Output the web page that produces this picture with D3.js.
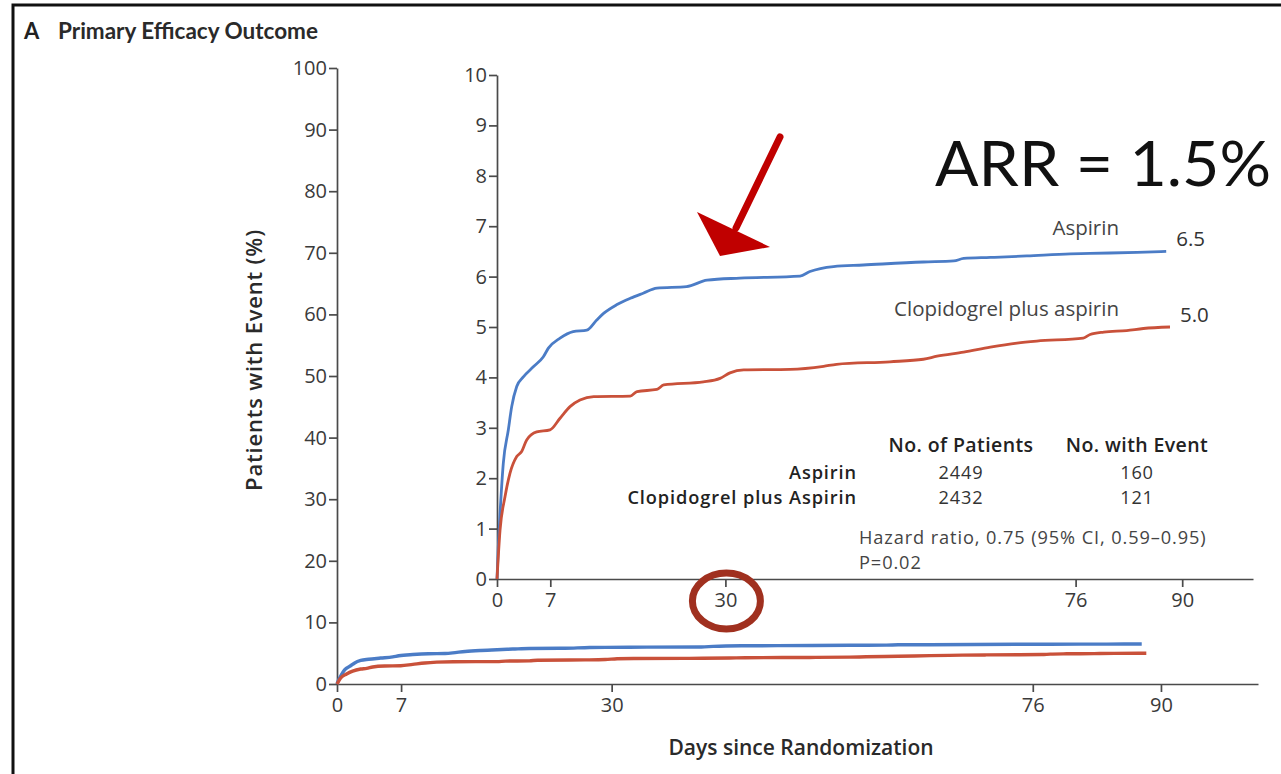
<!DOCTYPE html>
<html>
<head>
<meta charset="utf-8">
<script src="https://cdn.jsdelivr.net/npm/d3@7"></script>
<style>
  html, body { margin: 0; padding: 0; background: #fff; }
  svg { display: block; }
  text { font-family: "Open Sans", "Noto Sans", sans-serif; fill: #3a3a3a; }
</style>
</head>
<body>
<svg id="chart" width="1281" height="774"></svg>
<script>
// Kaplan–Meier cumulative event curves (percent of patients with event)
const seriesNames = ["Aspirin", "Clopidogrel plus aspirin"];
const seriesColors = ["#4b7cc6", "#c9513a"];

const aspirinDays = [0, 0.17, 0.4, 0.83, 1.49, 1.93, 2.59, 3.46, 4.77, 6.09, 6.75, 8.28, 10.0, 11.8, 13.1, 14.0, 15.7, 17.5, 19.2, 21.0, 24.9, 27.6, 31.9, 39.8, 41.1, 44.2, 48.1, 56.0, 60.0, 61.3, 64.8, 69.6, 75.3, 77.9, 84.1, 87.9];
const aspirinPct  = [0, 0.64, 1.30, 2.30, 2.96, 3.42, 3.82, 4.01, 4.21, 4.41, 4.58, 4.78, 4.91, 4.94, 5.14, 5.27, 5.44, 5.57, 5.67, 5.77, 5.80, 5.93, 5.97, 6.01, 6.10, 6.20, 6.23, 6.29, 6.31, 6.36, 6.38, 6.41, 6.45, 6.46, 6.48, 6.5];

const clopiDays = [0, 0.4, 1.05, 1.71, 2.59, 3.24, 3.90, 5.21, 6.96, 8.28, 9.59, 10.9, 12.7, 17.5, 18.4, 21.0, 21.9, 27.1, 29.3, 30.6, 32.4, 38.5, 42.9, 44.6, 51.6, 56.0, 57.8, 61.3, 64.8, 68.3, 70.9, 77.0, 77.9, 79.7, 82.7, 84.9, 88.4];
const clopiPct  = [0, 0.97, 1.63, 2.10, 2.43, 2.53, 2.76, 2.92, 2.96, 3.19, 3.42, 3.55, 3.62, 3.63, 3.72, 3.76, 3.85, 3.91, 3.98, 4.09, 4.15, 4.16, 4.22, 4.26, 4.31, 4.36, 4.42, 4.50, 4.60, 4.68, 4.72, 4.78, 4.85, 4.90, 4.93, 4.97, 5.0];

const xTicks = [0, 7, 30, 76, 90];
const mainYTicks = [0, 10, 20, 30, 40, 50, 60, 70, 80, 90, 100];
const insetYTicks = [0, 1, 2, 3, 4, 5, 6, 7, 8, 9, 10];

// Summary table
const tableHeaders = ["No. of Patients", "No. with Event"];
const tableGroups = ["Aspirin", "Clopidogrel plus Aspirin"];
const nPatients = [2449, 2432];
const nEvents = [160, 121];
const statLines = ["Hazard ratio, 0.75 (95% CI, 0.59\u20130.95)", "P=0.02"];

const series = [
  { name: seriesNames[0], color: seriesColors[0], pts: aspirinDays.map((d, i) => [d, aspirinPct[i]]) },
  { name: seriesNames[1], color: seriesColors[1], pts: clopiDays.map((d, i) => [d, clopiPct[i]]) }
];

const svg = d3.select("#chart");
const axisColor = "#4a4a4a";

// Page frame
svg.append("path")
  .attr("d", "M13,774 L13,5 L1281,5")
  .attr("fill", "none").attr("stroke", "#111").attr("stroke-width", 3);

// Panel heading
svg.append("text").attr("x", 24).attr("y", 39)
  .style("font-family", "Lato, 'Open Sans', sans-serif")
  .style("font-size", "22px").style("font-weight", 700).style("fill", "#222")
  .text("A");
svg.append("text").attr("x", 58).attr("y", 39)
  .style("font-family", "Lato, 'Open Sans', sans-serif")
  .style("font-size", "22.5px").style("font-weight", 700).style("fill", "#2a2a2a")
  .text("Primary Efficacy Outcome");

function styleAxis(g, fontSize) {
  g.select(".domain").attr("stroke", axisColor).attr("stroke-width", 1.7);
  g.selectAll(".tick line").attr("stroke", axisColor).attr("stroke-width", 1.7);
  g.selectAll(".tick text")
    .style("font-family", "'Open Sans', sans-serif")
    .style("font-size", fontSize + "px").style("fill", "#3a3a3a");
}

// ---------- Main panel (0–100 %) ----------
const xMain = d3.scaleLinear().domain([0, 100.6]).range([337, 1258]);
const yMain = d3.scaleLinear().domain([0, 100]).range([684, 68]);

svg.append("g").attr("transform", `translate(0,${yMain(0)})`)
  .call(d3.axisBottom(xMain).tickValues(xTicks).tickSize(8).tickSizeOuter(0).tickPadding(6))
  .call(g => styleAxis(g, 20));

svg.append("g").attr("transform", `translate(${xMain(0)},0)`)
  .call(d3.axisLeft(yMain).tickValues(mainYTicks).tickSize(8).tickSizeOuter(0).tickPadding(2))
  .call(g => styleAxis(g, 20));

svg.append("text")
  .attr("transform", `translate(262,360) rotate(-90)`)
  .attr("text-anchor", "middle")
  .style("font-size", "22px").style("font-weight", 600).style("fill", "#2a2a2a")
  .style("letter-spacing", "0.8px")
  .text("Patients with Event (%)");

svg.append("text")
  .attr("x", 801).attr("y", 755).attr("text-anchor", "middle")
  .style("font-size", "21px").style("font-weight", 600).style("fill", "#2a2a2a")
  .text("Days since Randomization");

const lineMain = d3.line().x(d => xMain(d[0])).y(d => yMain(d[1])).curve(d3.curveMonotoneX);
svg.append("g").selectAll("path").data(series).join("path")
  .attr("d", d => lineMain(d.pts))
  .attr("fill", "none").attr("stroke", d => d.color).attr("stroke-width", 3.4);

// ---------- Inset panel (0–10 %) ----------
const xIn = d3.scaleLinear().domain([0, 99.3]).range([497, 1253]);
const yIn = d3.scaleLinear().domain([0, 10]).range([579, 75]);

svg.append("g").attr("transform", `translate(0,${yIn(0)})`)
  .call(d3.axisBottom(xIn).tickValues(xTicks).tickSize(8).tickSizeOuter(0).tickPadding(6))
  .call(g => styleAxis(g, 20));

svg.append("g").attr("transform", `translate(${xIn(0)},0)`)
  .call(d3.axisLeft(yIn).tickValues(insetYTicks).tickSize(8).tickSizeOuter(0).tickPadding(2))
  .call(g => styleAxis(g, 20));

const lineIn = d3.line().x(d => xIn(d[0])).y(d => yIn(d[1])).curve(d3.curveMonotoneX);
svg.append("g").selectAll("path").data(series).join("path")
  .attr("d", d => lineIn(d.pts))
  .attr("fill", "none").attr("stroke", d => d.color).attr("stroke-width", 2.8);

// Curve names and end-of-follow-up values
const fmt = d3.format(".1f");
const nameBaselines = [235, 316];
series.forEach((s, i) => {
  const last = s.pts[s.pts.length - 1];
  svg.append("text")
    .attr("x", xIn(last[0]) + 10).attr("y", yIn(last[1]) - 5)
    .style("font-size", "20.5px").style("fill", "#333")
    .text(fmt(last[1]));
  svg.append("text")
    .attr("x", 1119).attr("y", nameBaselines[i])
    .attr("text-anchor", "end")
    .style("font-size", "20.5px").style("fill", "#444")
    .text(s.name);
});

// Table of patients and events (rows 25 px apart)
const colX = [961, 1137];
const rowFont = "18.2px";
tableHeaders.forEach((h, j) => {
  svg.append("text").attr("x", colX[j]).attr("y", 452).attr("text-anchor", "middle")
    .style("font-size", "19.5px").style("font-weight", 600).style("fill", "#222")
    .style("letter-spacing", "0.4px")
    .text(h);
});
tableGroups.forEach((g, i) => {
  const y = 479 + i * 25;
  svg.append("text").attr("x", 857).attr("y", y).attr("text-anchor", "end")
    .style("font-size", rowFont).style("font-weight", 600).style("fill", "#222")
    .style("letter-spacing", "0.9px").text(g);
  svg.append("text").attr("x", colX[0]).attr("y", y).attr("text-anchor", "middle")
    .style("font-size", rowFont).style("fill", "#333").style("letter-spacing", "0.8px").text(nPatients[i]);
  svg.append("text").attr("x", colX[1]).attr("y", y).attr("text-anchor", "middle")
    .style("font-size", rowFont).style("fill", "#333").style("letter-spacing", "0.8px").text(nEvents[i]);
});
statLines.forEach((t, i) => {
  svg.append("text").attr("x", 859).attr("y", 544 + i * 25)
    .style("font-size", rowFont).style("fill", "#444")
    .style("letter-spacing", "0.9px").text(t);
});

// ---------- Annotations ----------
svg.append("text").attr("x", 935).attr("y", 186)
  .attr("textLength", 336).attr("lengthAdjust", "spacingAndGlyphs")
  .style("font-family", "Lato, 'Open Sans', sans-serif")
  .style("font-size", "62px").style("font-weight", 400).style("fill", "#111")
  .text("ARR = 1.5%");

// Arrow pointing at the early separation of the curves
svg.append("line").attr("x1", 780).attr("y1", 137).attr("x2", 736).attr("y2", 228)
  .attr("stroke", "#c00000").attr("stroke-width", 7).attr("stroke-linecap", "round");
svg.append("path").attr("d", "M697,212 L770,247 L720,256 Z").attr("fill", "#c00000");

// Circle around day 30 on the inset axis
svg.append("ellipse").attr("cx", xIn(30) + 1).attr("cy", 601).attr("rx", 34).attr("ry", 28)
  .attr("fill", "none").attr("stroke", "#a0301f").attr("stroke-width", 7);
</script>
</body>
</html>
